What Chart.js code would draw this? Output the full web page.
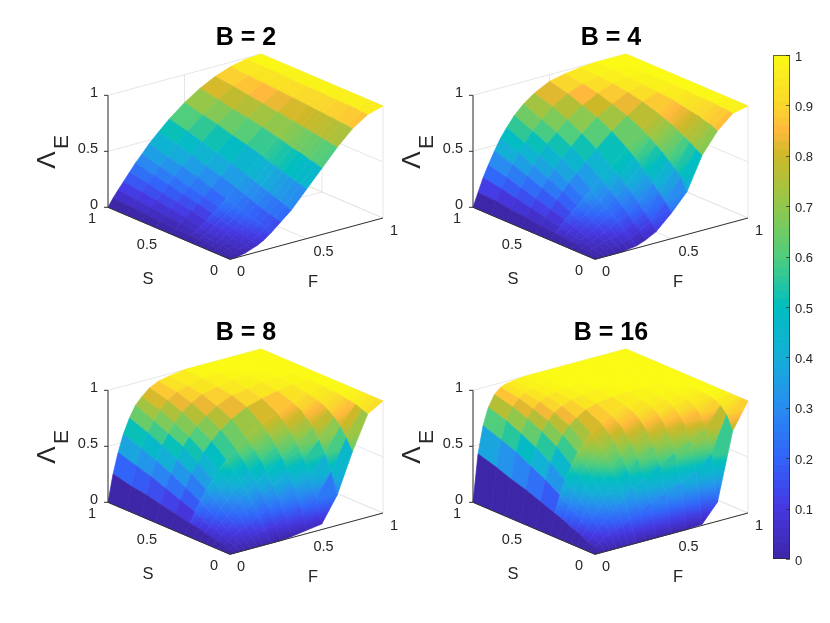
<!DOCTYPE html>
<html>
<head>
<meta charset="utf-8">
<script src="https://cdn.jsdelivr.net/npm/chart.js@4"></script>
<style>
  html, body { margin: 0; background: #fff; }
  canvas { position: absolute; filter: blur(.3px); }
</style>
</head>
<body>
<canvas id="b2" style="left:25px;top:10px"></canvas>
<canvas id="b4" style="left:390px;top:10px"></canvas>
<canvas id="b8" style="left:25px;top:305px"></canvas>
<canvas id="b16" style="left:390px;top:305px"></canvas>
<canvas id="bar" style="left:760px;top:0"></canvas>
<script>
const F_MESH = [0, .033, .066, .1, .14, .18, .22, .27, .33, .4, .5, .6, .7, .8, .9, 1]
const S_MESH = [0, .05, .1, .15, .2, .25, .3, .37, .49, .61, .73, .85, 1]

const Z_TICKS = [0, .5, 1]
const S_TICKS = [0, .5, 1]
const F_TICKS = [0, .5, 1]
const BAR_TICKS = [0, .1, .2, .3, .4, .5, .6, .7, .8, .9, 1]

// rows follow F_MESH, columns follow S_MESH
const Z_B2 = [
  [0,0,0,0,0,0,0,0,0,0,0,0,0],
  [0,.01,.01,.01,.01,.02,.02,.03,.03,.04,.05,.06,.07],
  [.01,.01,.02,.03,.03,.04,.05,.05,.07,.08,.10,.11,.13],
  [.02,.03,.04,.05,.06,.06,.07,.08,.11,.13,.15,.17,.19],
  [.04,.05,.06,.07,.09,.10,.11,.12,.15,.18,.20,.23,.26],
  [.06,.08,.09,.11,.12,.13,.15,.17,.20,.23,.26,.29,.33],
  [.09,.11,.13,.14,.16,.17,.19,.21,.25,.28,.32,.35,.39],
  [.14,.16,.18,.19,.21,.23,.25,.27,.31,.35,.39,.42,.47],
  [.21,.23,.24,.26,.28,.30,.32,.35,.39,.43,.47,.51,.55],
  [.29,.31,.33,.35,.37,.39,.41,.44,.48,.52,.56,.60,.64],
  [.44,.46,.47,.49,.51,.53,.54,.57,.61,.64,.68,.71,.75],
  [.59,.61,.62,.64,.65,.66,.68,.70,.73,.76,.78,.81,.84],
  [.74,.75,.76,.77,.78,.79,.80,.81,.83,.85,.87,.89,.91],
  [.87,.88,.88,.89,.89,.90,.90,.91,.92,.93,.94,.95,.96],
  [.96,.96,.97,.97,.97,.97,.97,.98,.98,.98,.99,.99,.99],
  [1,1,1,1,1,1,1,1,1,1,1,1,1]
]
const Z_B4 = [
  [0,0,0,0,0,0,0,0,0,0,0,0,0],
  [0,.01,.01,.02,.03,.03,.04,.05,.06,.08,.09,.11,.12],
  [0,.01,.03,.04,.05,.06,.08,.09,.12,.15,.18,.21,.24],
  [0,.02,.04,.06,.08,.10,.11,.14,.18,.22,.26,.30,.34],
  [0,.03,.06,.08,.11,.13,.16,.19,.25,.30,.35,.40,.45],
  [0,.04,.07,.11,.14,.17,.20,.24,.31,.37,.43,.49,.55],
  [.01,.05,.09,.13,.17,.21,.25,.29,.37,.44,.51,.56,.63],
  [.02,.07,.12,.17,.21,.25,.29,.35,.44,.52,.59,.65,.72],
  [.05,.11,.16,.22,.27,.32,.36,.43,.52,.60,.67,.73,.80],
  [.10,.17,.23,.29,.35,.40,.45,.51,.61,.69,.76,.82,.87],
  [.23,.30,.36,.42,.48,.53,.58,.64,.73,.80,.85,.90,.94],
  [.38,.49,.54,.59,.64,.68,.72,.77,.83,.88,.92,.95,.97],
  [.67,.70,.74,.77,.80,.83,.85,.88,.92,.95,.97,.98,.99],
  [.85,.88,.89,.91,.92,.93,.94,.96,.97,.98,.99,1,1],
  [.97,.98,.98,.99,.99,.99,.99,1,1,1,1,1,1],
  [1,1,1,1,1,1,1,1,1,1,1,1,1]
]
const Z_B8 = [
  [0,0,0,0,0,0,0,0,0,0,0,0,0],
  [0,.01,.03,.04,.05,.06,.08,.09,.12,.15,.18,.20,.24],
  [0,.03,.05,.08,.10,.12,.15,.18,.23,.28,.33,.37,.42],
  [0,.04,.08,.11,.15,.18,.22,.26,.33,.40,.46,.51,.57],
  [0,.05,.11,.16,.20,.25,.29,.35,.44,.51,.58,.64,.70],
  [0,.07,.14,.20,.25,.31,.36,.43,.52,.61,.67,.73,.80],
  [0,.08,.16,.24,.30,.36,.42,.49,.60,.68,.75,.81,.86],
  [0,.10,.20,.28,.36,.43,.49,.57,.68,.76,.83,.88,.92],
  [0,.12,.24,.34,.42,.50,.56,.65,.76,.83,.89,.93,.96],
  [.01,.16,.29,.39,.49,.57,.64,.72,.83,.89,.94,.96,.98],
  [.03,.21,.36,.48,.58,.66,.73,.81,.90,.95,.97,.99,1],
  [.05,.25,.42,.55,.66,.74,.80,.87,.94,.97,.99,1,1],
  [.27,.45,.59,.69,.78,.84,.89,.93,.97,.99,1,1,1],
  [.62,.72,.80,.86,.90,.93,.95,.97,.99,1,1,1,1],
  [.92,.94,.96,.97,.98,.99,.99,1,1,1,1,1,1],
  [1,1,1,1,1,1,1,1,1,1,1,1,1]
]
const Z_B16 = [
  [0,0,0,0,0,0,0,0,0,0,0,0,0],
  [0,.03,.05,.08,.10,.12,.15,.18,.23,.28,.32,.37,.42],
  [0,.05,.10,.15,.19,.23,.27,.33,.41,.48,.55,.60,.66],
  [0,.08,.15,.21,.28,.33,.39,.45,.55,.63,.70,.76,.81],
  [0,.11,.20,.29,.37,.43,.50,.57,.68,.76,.82,.87,.91],
  [0,.13,.25,.35,.44,.52,.59,.67,.77,.84,.89,.93,.96],
  [0,.16,.30,.42,.51,.60,.66,.74,.84,.90,.94,.96,.98],
  [0,.20,.35,.48,.59,.67,.74,.81,.89,.94,.97,.98,.99],
  [0,.23,.42,.56,.66,.75,.81,.88,.94,.97,.99,.99,1],
  [0,.28,.48,.63,.74,.81,.87,.92,.97,.99,1,1,1],
  [0,.33,.56,.71,.81,.88,.93,.96,.99,1,1,1,1],
  [0,.39,.63,.78,.87,.93,.96,.98,1,1,1,1,1],
  [.01,.46,.70,.84,.91,.96,.98,.99,1,1,1,1,1],
  [.17,.57,.78,.89,.95,.97,.99,1,1,1,1,1,1],
  [.77,.89,.95,.98,.99,1,1,1,1,1,1,1,1],
  [1,1,1,1,1,1,1,1,1,1,1,1,1]
]

const PANELS = [
  { id: 'b2', title: 'B = 2', z: Z_B2 },
  { id: 'b4', title: 'B = 4', z: Z_B4 },
  { id: 'b8', title: 'B = 8', z: Z_B8 },
  { id: 'b16', title: 'B = 16', z: Z_B16 }
]

const COLOR_STOPS = [
  [0, 62, 38, 168], [.1, 70, 55, 225], [.2, 50, 100, 250], [.3, 40, 140, 240],
  [.4, 20, 175, 215], [.5, 0, 190, 190], [.6, 80, 205, 125], [.7, 145, 200, 75],
  [.8, 205, 185, 40], [.85, 255, 185, 60], [.9, 250, 215, 45], [1, 250, 250, 20]
]
const BAR_LEVELS = 64

const PANEL_W = 380, PANEL_H = 295
const FRONT = { x: 205, y: 249.3 }
const FINE_F = 7, FINE_S = 7 // mesh is dense below these rows and columns in the original
const TEXT_COLOR = '#262626'
const FONT = '"Liberation Sans", Arial, sans-serif'

function colorFor(v) {
  let i = 0
  while (i < COLOR_STOPS.length - 2 && v > COLOR_STOPS[i + 1][0]) i++
  const a = COLOR_STOPS[i], b = COLOR_STOPS[i + 1]
  const t = Math.min(1, Math.max(0, (v - a[0]) / (b[0] - a[0])))
  const c = [1, 2, 3].map(k => Math.round(a[k] + (b[k] - a[k]) * t))
  return `rgb(${c[0]},${c[1]},${c[2]})`
}

// fixed MATLAB-like view: vertical stays vertical
function project(f, s, z) {
  return {
    x: FRONT.x + 153 * f - 122 * s,
    y: FRONT.y - 41.3 * f - 52 * s - 112 * z
  }
}

function lineSet(points, color, width) {
  return { data: points, borderColor: color, borderWidth: width, pointRadius: 0, fill: false }
}

function rampBetween(ctx, a, b, v0, v1) {
  const g = ctx.createLinearGradient(a.x, a.y, b.x, b.y)
  for (let k = 0; k <= 6; k++) g.addColorStop(k / 6, colorFor(v0 + (v1 - v0) * k / 6))
  return g
}

function surfaceSets(ctx, z) {
  const cells = []
  for (let i = 0; i < F_MESH.length - 1; i++) {
    for (let j = 0; j < S_MESH.length - 1; j++) {
      const f0 = F_MESH[i], f1 = F_MESH[i + 1], s0 = S_MESH[j], s1 = S_MESH[j + 1]
      const corners = [
        project(f0, s0, z[i][j]), project(f1, s0, z[i + 1][j]),
        project(f1, s1, z[i + 1][j + 1]), project(f0, s1, z[i][j + 1])
      ]
      let color = colorFor(z[i][j])
      // first row stays flat, it is the dark wedge along the S edge
      if (i > 0 && j < FINE_S && i < FINE_F) {
        color = rampBetween(ctx, corners[0], corners[2], z[i][j], z[i + 1][j + 1])
      } else if (i > 0 && j < FINE_S) {
        color = rampBetween(ctx, corners[0], corners[3], z[i][j], z[i][j + 1])
      }
      cells.push({
        depth: i + j,
        set: {
          data: [...corners, corners[0]],
          fill: 'shape', backgroundColor: color, borderColor: color,
          borderWidth: .7, pointRadius: 0
        }
      })
    }
  }
  // first dataset is painted last, so nearest cells go first
  return cells.sort((a, b) => a.depth - b.depth).map(c => c.set)
}

function gridSets() {
  const grid = '#e6e6e6', sets = []
  Z_TICKS.forEach(v => {
    sets.push(lineSet([project(0, 1, v), project(1, 1, v), project(1, 0, v)], grid, 1))
  })
  F_TICKS.forEach(v => {
    sets.push(lineSet([project(v, 0, 0), project(v, 1, 0), project(v, 1, 1)], grid, 1))
  })
  S_TICKS.forEach(v => {
    sets.push(lineSet([project(0, v, 0), project(1, v, 0), project(1, v, 1)], grid, 1))
  })
  return sets
}

function axisSets() {
  const dark = '#333333', sets = []
  sets.push(lineSet([project(0, 1, 0), project(0, 1, 1)], dark, 1))
  sets.push(lineSet([project(0, 1, 0), project(0, 0, 0)], dark, 1))
  sets.push(lineSet([project(0, 0, 0), project(1, 0, 0)], dark, 1))
  Z_TICKS.forEach(v => {
    const p = project(0, 1, v)
    sets.push(lineSet([p, { x: p.x - 4, y: p.y }], dark, 1))
  })
  return sets
}

const panelText = {
  id: 'panelText',
  afterDraw(chart, args, opts) {
    const ctx = chart.ctx
    ctx.save()
    ctx.fillStyle = TEXT_COLOR
    ctx.textBaseline = 'middle'
    ctx.font = `14.5px ${FONT}`
    ctx.textAlign = 'right'
    Z_TICKS.forEach(v => {
      const p = project(0, 1, v)
      ctx.fillText(String(v), p.x - 10, p.y - 2)
    })
    S_TICKS.forEach(v => {
      const p = project(0, v, 0)
      ctx.fillText(String(v), p.x - 12, p.y + 12)
    })
    ctx.textAlign = 'left'
    F_TICKS.forEach(v => {
      const p = project(v, 0, 0)
      ctx.fillText(String(v), p.x + 7, p.y + 13)
    })
    ctx.textAlign = 'center'
    ctx.font = `16.5px ${FONT}`
    ctx.fillText('S', FRONT.x - 82, FRONT.y + 20)
    ctx.fillText('F', FRONT.x + 83, FRONT.y + 23)

    ctx.save()
    ctx.translate(23, 150)
    ctx.rotate(-Math.PI / 2)
    ctx.font = `26px ${FONT}`
    ctx.fillText('Λ', 0, 0)
    ctx.restore()
    ctx.save()
    ctx.translate(37, 132)
    ctx.rotate(-Math.PI / 2)
    ctx.font = `21px ${FONT}`
    ctx.fillText('E', 0, 0)
    ctx.restore()

    ctx.fillStyle = '#000'
    ctx.font = `bold 25px ${FONT}`
    ctx.fillText(opts.title, 221, 28)
    ctx.restore()
  }
}

PANELS.forEach(panel => {
  const canvas = document.getElementById(panel.id)
  canvas.width = PANEL_W
  canvas.height = PANEL_H
  const ctx = canvas.getContext('2d')
  new Chart(canvas, {
    type: 'line',
    data: { datasets: [...axisSets(), ...surfaceSets(ctx, panel.z), ...gridSets()] },
    options: {
      responsive: false,
      animation: false,
      events: [],
      layout: { padding: 0 },
      scales: {
        x: { type: 'linear', min: 0, max: PANEL_W, display: false },
        y: { type: 'linear', min: 0, max: PANEL_H, reverse: true, display: false }
      },
      plugins: {
        legend: { display: false },
        tooltip: { enabled: false },
        panelText: { title: panel.title }
      }
    },
    plugins: [panelText]
  })
})

// colorbar: one floating bar per colormap level on a real 0..1 axis
const barSets = []
for (let i = 0; i < BAR_LEVELS; i++) {
  const lo = i / BAR_LEVELS, hi = (i + 1) / BAR_LEVELS
  const color = colorFor((lo + hi) / 2)
  barSets.push({ data: [[lo, hi]], backgroundColor: color, borderColor: color, borderWidth: 0 })
}

const barTicks = {
  id: 'barTicks',
  afterDraw(chart) {
    const ctx = chart.ctx, y = chart.scales.y, area = chart.chartArea
    ctx.save()
    ctx.strokeStyle = 'rgba(40,40,40,.7)'
    BAR_TICKS.forEach(v => {
      const py = Math.round(y.getPixelForValue(v)) + .5
      ctx.beginPath()
      ctx.moveTo(area.right - 4, py)
      ctx.lineTo(area.right, py)
      ctx.stroke()
    })
    ctx.strokeRect(area.left + .5, area.top + .5, area.right - area.left - 1, area.bottom - area.top - 1)
    ctx.restore()
  }
}

const barCanvas = document.getElementById('bar')
barCanvas.width = 70
barCanvas.height = 623
new Chart(barCanvas, {
  type: 'bar',
  data: { labels: ['level'], datasets: barSets },
  options: {
    responsive: false,
    animation: false,
    events: [],
    layout: { padding: { left: 13, top: 55, bottom: 64, right: 0 } },
    datasets: { bar: { grouped: false, barPercentage: 1, categoryPercentage: 1 } },
    scales: {
      x: { display: false },
      y: {
        position: 'right',
        min: 0,
        max: 1,
        afterFit(scale) { scale.width = 40 },
        afterBuildTicks(scale) { scale.ticks = BAR_TICKS.map(value => ({ value })) },
        grid: { display: false, drawTicks: false },
        border: { display: false },
        ticks: {
          color: TEXT_COLOR,
          padding: 5,
          labelOffset: 2,
          font: { family: FONT, size: 13 },
          callback: v => String(v)
        }
      }
    },
    plugins: { legend: { display: false }, tooltip: { enabled: false } }
  },
  plugins: [barTicks]
})
</script>
</body>
</html>
